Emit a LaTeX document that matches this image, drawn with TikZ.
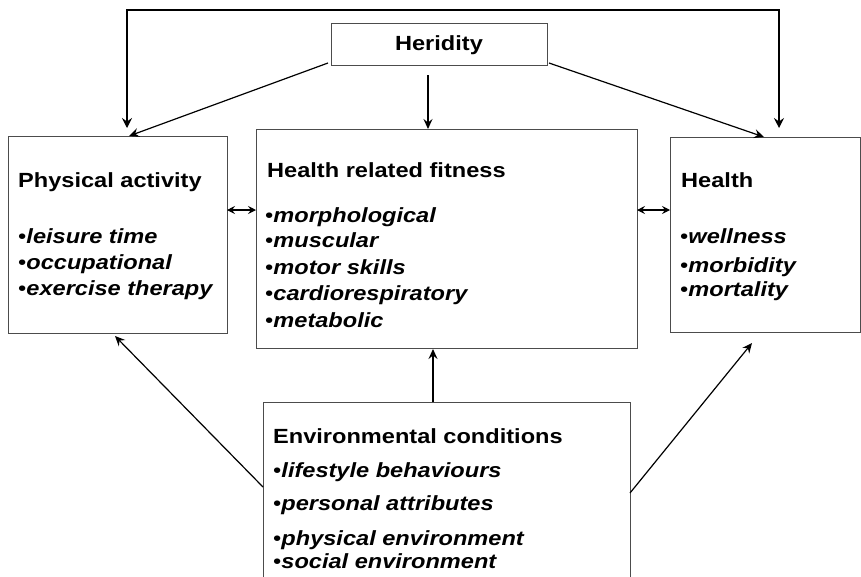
\documentclass[tikz,border=0pt]{standalone}
\usepackage{fontspec}
\setmainfont{Liberation Sans}[FakeStretch=1.15]
\usetikzlibrary{arrows.meta}

\tikzset{
  box/.style={draw=black!70, line width=1pt, rectangle, inner sep=0pt, outer sep=0pt, anchor=north west},
  txt/.style={inner sep=0pt, anchor=base west, font=\fontsize{20.5}{25}\selectfont\bfseries},
  arr/.style={line width=1.2pt, -{Stealth[length=10pt, width=9pt, inset=3.5pt]}},
  darr/.style={line width=1.1pt, {Stealth[length=8pt, width=8pt, inset=3pt]}-{Stealth[length=8pt, width=8pt, inset=3pt]}},
  loop/.style={line width=1.3pt, {Stealth[length=10pt, width=10pt, inset=3.5pt]}-{Stealth[length=10pt, width=10pt, inset=3.5pt]}}
}
\newcommand{\itm}[1]{{\mdseries\char"2022}\textit{#1}}

\begin{document}
\begin{tikzpicture}[x=1pt, y=-1pt]
  \clip (0,0) rectangle (861,576);
  \fill[white] (0,0) rectangle (861,576);

  % boxes
  \node[box, minimum width=216pt, minimum height=42pt] (her) at (331,23) {};
  \node[box, minimum width=219pt, minimum height=197pt] (pa) at (8,136) {};
  \node[box, minimum width=381pt, minimum height=219pt] (fit) at (256,129) {};
  \node[box, minimum width=190pt, minimum height=195pt] (hl) at (670,137) {};
  \node[box, minimum width=367pt, minimum height=200pt] (env) at (263,402) {};

  % heredity
  \node[txt, anchor=base] (herT) at (439,50) {Heridity};

  % physical activity
  \node[txt] (paT) at (18,187) {Physical activity};
  \node[txt] (pa1) at (18,243) {\itm{leisure time}};
  \node[txt] (pa2) at (18,269) {\itm{occupational}};
  \node[txt] (pa3) at (18,295) {\itm{exercise therapy}};

  % health related fitness
  \node[txt] (fitT) at (267,177) {Health related fitness};
  \node[txt] (fit1) at (265,222) {\itm{morphological}};
  \node[txt] (fit2) at (265,247) {\itm{muscular}};
  \node[txt] (fit3) at (265,274) {\itm{motor skills}};
  \node[txt] (fit4) at (265,300) {\itm{cardiorespiratory}};
  \node[txt] (fit5) at (265,327) {\itm{metabolic}};

  % health
  \node[txt] (hlT) at (681,187) {Health};
  \node[txt] (hl1) at (680,243) {\itm{wellness}};
  \node[txt] (hl2) at (680,272) {\itm{morbidity}};
  \node[txt] (hl3) at (680,296) {\itm{mortality}};

  % environmental conditions
  \node[txt] (envT) at (273,443) {Environmental conditions};
  \node[txt] (env1) at (273,477) {\itm{lifestyle behaviours}};
  \node[txt] (env2) at (273,510) {\itm{personal attributes}};
  \node[txt] (env3) at (273,545) {\itm{physical environment}};
  \node[txt] (env4) at (273,568) {\itm{social environment}};

  % connector end points
  \coordinate (loopL) at (127,128);
  \coordinate (loopR) at (779,128);
  \coordinate (herSW) at (328,63);
  \coordinate (herSE) at (549,63);
  \coordinate (herS) at (428,75);
  \coordinate (paN) at (129,136);
  \coordinate (hlN) at (764,137);
  \coordinate (fitN) at (428,129);
  \coordinate (paE) at (227,210);
  \coordinate (fitW) at (256,210);
  \coordinate (fitE) at (637,210);
  \coordinate (hlW) at (670,210);
  \coordinate (envW) at (263,487);
  \coordinate (envE) at (630,493);
  \coordinate (envN) at (433,402);
  \coordinate (fitS) at (433,349);
  \coordinate (paS) at (115,336);
  \coordinate (hlS) at (752,343);

  % heredity links
  \draw[loop] (loopL) |- (439,10) -| (loopR);
  \draw[arr] (herSW) -- (paN);
  \draw[arr] (herS) -- (fitN);
  \draw[arr] (herSE) -- (hlN);

  % mutual links
  \draw[darr] (paE) -- (fitW);
  \draw[darr] (fitE) -- (hlW);

  % environment links
  \draw[arr] (envW) -- (paS);
  \draw[arr] (envN) -- (fitS);
  \draw[arr] (envE) -- (hlS);
\end{tikzpicture}
\end{document}
